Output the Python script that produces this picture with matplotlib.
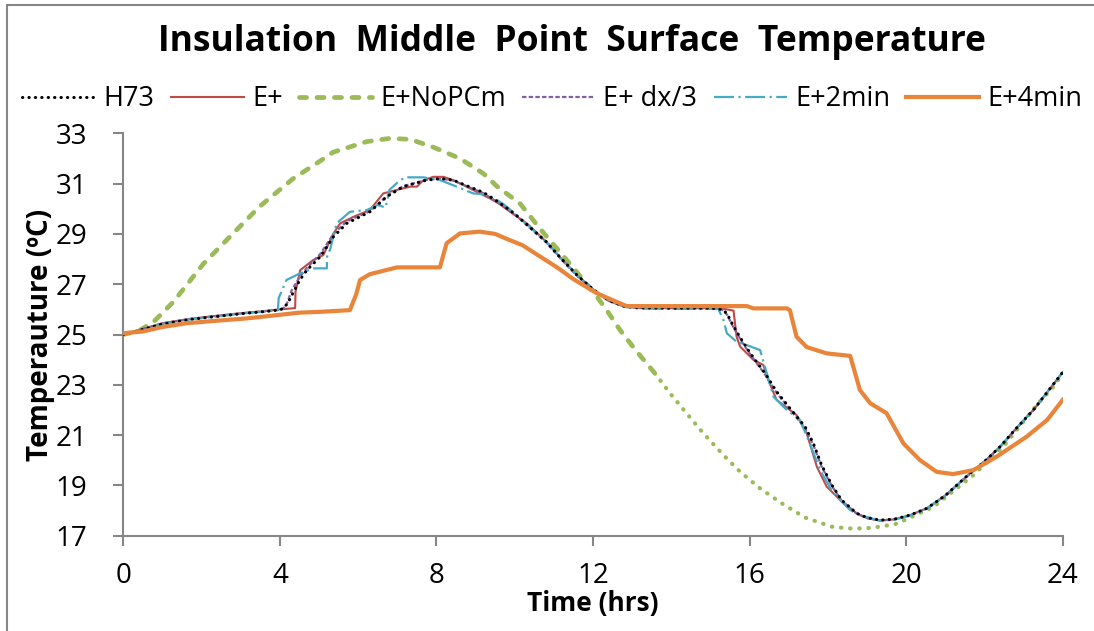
import numpy as np
import matplotlib
matplotlib.use("Agg")
import matplotlib.pyplot as plt
from matplotlib.patches import Rectangle

plt.rcParams['font.family'] = ['Open Sans', 'DejaVu Sans']

#--------------------------------------------
# series data (time in hrs, temperature in C)
t_h73 = [0, 0.5, 1.0, 1.7, 2.4, 3.15, 3.66, 4.0, 4.1, 4.22, 4.51, 4.69, 5.03, 5.37, 5.71,
         6.3, 6.73, 7.15, 7.75, 8.1, 8.43, 8.8, 9.2, 9.6, 10.0, 10.4, 10.8, 11.2, 11.6,
         12.0, 12.4, 12.8, 13.2, 14.0, 15.0, 15.3, 15.42, 15.6, 15.8, 16.0, 16.14, 16.4,
         16.69, 17.03, 17.42, 17.63, 17.84, 18.1, 18.35, 18.74, 19.0, 19.33, 19.7, 20.1,
         20.53, 21.0, 21.63, 22.0, 22.4, 22.8, 23.25, 23.6, 24.0]
T_h73 = [25.0, 25.2, 25.42, 25.6, 25.72, 25.85, 25.92, 25.98, 26.05, 26.3, 27.17, 27.56,
         28.09, 28.89, 29.42, 29.88, 30.48, 30.88, 31.14, 31.2, 31.14, 30.9, 30.65, 30.25,
         29.8, 29.25, 28.7, 28.0, 27.35, 26.8, 26.35, 26.12, 26.06, 26.05, 26.05, 26.0,
         25.84, 25.3, 24.78, 24.3, 23.99, 23.45, 22.73, 22.07, 21.33, 20.67, 19.81, 19.02,
         18.42, 17.89, 17.72, 17.62, 17.66, 17.82, 18.09, 18.6, 19.48, 19.95, 20.54, 21.25,
         22.0, 22.7, 23.5]

t_ep = [0, 0.5, 1.0, 1.7, 2.4, 3.15, 3.66, 4.0, 4.39, 4.4, 4.52, 4.85, 5.11, 5.37, 5.54,
        5.88, 6.3, 6.64, 6.99, 7.33, 7.5, 7.67, 7.92, 8.18, 8.43, 8.77, 9.11, 9.37, 9.6,
        10.0, 10.31, 10.8, 11.2, 11.6, 12.0, 12.4, 12.8, 13.2, 14.0, 15.24, 15.59, 15.67,
        15.76, 16.1, 16.35, 16.48, 16.69, 17.2, 17.46, 17.72, 17.97, 18.4, 18.74, 19.0,
        19.33, 19.7, 20.1, 20.53, 21.0, 21.63, 22.0, 22.4, 22.8, 23.25, 23.6, 24.0]
T_ep = [25.0, 25.22, 25.45, 25.62, 25.75, 25.87, 25.94, 26.0, 26.05, 26.7, 27.56, 27.96,
        28.16, 29.02, 29.42, 29.68, 29.95, 30.61, 30.75, 30.88, 30.88, 31.14, 31.27, 31.27,
        31.14, 30.88, 30.61, 30.41, 30.2, 29.75, 29.42, 28.7, 28.0, 27.35, 26.8, 26.35,
        26.12, 26.06, 26.05, 26.05, 25.95, 24.9, 24.52, 23.99, 23.79, 23.19, 22.4, 21.8,
        21.07, 19.74, 18.95, 18.29, 17.89, 17.7, 17.6, 17.65, 17.82, 18.09, 18.6, 19.48,
        19.95, 20.54, 21.25, 22.0, 22.7, 23.5]

t_nopcm = [0, 0.4, 0.77, 1.28, 2.04, 2.73, 3.49, 4.34, 5.03, 5.36, 6.22, 6.81, 7.33, 7.92,
           8.6, 9.2, 9.54, 10.14, 10.65, 11.33, 11.75, 12.1, 12.35, 12.69, 13.12, 13.58,
           13.97, 14.39, 14.82, 15.33, 15.76, 16.27, 16.82, 17.42, 18.1, 18.52, 18.95,
           19.33, 19.72, 20.06, 20.7, 21.29, 21.72, 22.48, 23.34, 23.76, 24.0]
T_nopcm = [25.0, 25.15, 25.5, 26.3, 27.8, 28.9, 30.1, 31.2, 31.9, 32.25, 32.67, 32.8,
           32.76, 32.45, 32.0, 31.4, 30.9, 30.2, 29.2, 27.96, 27.17, 26.5, 25.97, 25.18,
           24.32, 23.46, 22.66, 21.87, 21.07, 20.21, 19.54, 18.88, 18.29, 17.72, 17.36,
           17.29, 17.29, 17.36, 17.46, 17.69, 18.15, 18.88, 19.41, 20.54, 22.2, 22.92, 23.45]
nopcm_split = 13.58   # dashed part ends, dotted part begins

t_dx3 = [0, 0.5, 1.0, 1.7, 2.4, 3.15, 3.66, 4.0, 4.15, 4.3, 4.51, 4.69, 5.03, 5.37, 5.71,
         6.3, 6.73, 7.15, 7.75, 8.1, 8.43, 8.8, 9.2, 9.6, 10.0, 10.4, 10.8, 11.2, 11.6,
         12.0, 12.4, 12.8, 13.2, 14.0, 15.0, 15.3, 15.42, 15.6, 15.8, 16.0, 16.14, 16.4,
         16.69, 17.03, 17.42, 17.63, 17.84, 18.1, 18.35, 18.74, 19.0, 19.33, 19.7, 20.1,
         20.53, 21.0, 21.63, 22.0, 22.4, 22.8, 23.25, 23.6, 24.0]
T_dx3 = [25.0, 25.22, 25.44, 25.62, 25.74, 25.86, 25.93, 25.99, 26.1, 26.75, 27.3, 27.65,
         28.2, 29.0, 29.5, 29.9, 30.5, 30.9, 31.15, 31.2, 31.12, 30.88, 30.62, 30.22,
         29.78, 29.22, 28.67, 27.97, 27.32, 26.78, 26.34, 26.11, 26.05, 26.04, 26.04, 25.98,
         25.8, 25.25, 24.72, 24.25, 23.95, 23.4, 22.68, 22.02, 21.28, 20.6, 19.75, 18.98,
         18.4, 17.87, 17.7, 17.61, 17.65, 17.81, 18.08, 18.58, 19.46, 19.94, 20.52, 21.23,
         21.98, 22.69, 23.5]

t_2min = [0, 0.5, 1.0, 1.7, 2.4, 3.15, 3.66, 3.95, 3.97, 4.17, 4.51, 4.85, 5.2, 5.21, 5.28,
          5.45, 5.79, 6.22, 6.5, 6.7, 6.8, 7.07, 7.24, 7.67, 8.09, 8.52, 8.94, 9.28, 9.62,
          9.8, 10.0, 10.4, 10.8, 11.2, 11.6, 12.0, 12.4, 12.8, 13.2, 14.0, 15.2, 15.33,
          15.42, 15.67, 15.93, 16.27, 16.44, 16.61, 16.95, 17.29, 17.54, 17.8, 18.14, 18.57,
          18.82, 19.33, 19.7, 20.1, 20.53, 21.0, 21.63, 22.0, 22.4, 22.8, 23.25, 23.6, 24.0]
T_2min = [25.0, 25.2, 25.42, 25.6, 25.72, 25.85, 25.92, 25.97, 26.45, 27.17, 27.43, 27.63,
          27.63, 28.2, 28.36, 29.42, 29.88, 29.95, 30.15, 30.05, 30.75, 31.14, 31.25, 31.25,
          31.14, 30.88, 30.61, 30.57, 30.28, 30.08, 29.8, 29.25, 28.7, 28.0, 27.35, 26.8,
          26.35, 26.1, 26.03, 26.02, 26.02, 25.58, 25.05, 24.71, 24.58, 24.38, 23.46, 22.53,
          22.0, 21.6, 20.67, 19.61, 18.69, 18.02, 17.82, 17.6, 17.64, 17.8, 18.09, 18.6,
          19.48, 19.95, 20.54, 21.25, 22.0, 22.7, 23.5]

t_4min = [0, 0.5, 1.0, 1.62, 2.4, 3.15, 3.8, 4.5, 5.0, 5.79, 5.95, 6.05, 6.3, 6.56, 6.99,
          7.5, 8.09, 8.2, 8.26, 8.6, 9.11, 9.5, 9.8, 10.2, 10.65, 11.1, 11.5, 12.1, 12.69,
          12.86, 14.0, 15.93, 16.1, 16.95, 17.03, 17.2, 17.46, 17.97, 18.57, 18.82, 19.08,
          19.5, 19.93, 20.35, 20.78, 21.2, 21.72, 22.31, 23.08, 23.6, 24.0]
T_4min = [25.05, 25.12, 25.3, 25.45, 25.55, 25.64, 25.75, 25.87, 25.9, 25.97, 26.6, 27.17,
          27.4, 27.5, 27.67, 27.67, 27.67, 28.3, 28.63, 29.02, 29.09, 29.0, 28.8, 28.55,
          28.1, 27.65, 27.2, 26.64, 26.24, 26.13, 26.13, 26.13, 26.04, 26.04, 25.97, 24.91,
          24.5, 24.25, 24.15, 22.79, 22.27, 21.87, 20.67, 20.01, 19.54, 19.45, 19.61, 20.14,
          20.94, 21.6, 22.4]

x_ticks = [0, 4, 8, 12, 16, 20, 24]
y_ticks = [17, 19, 21, 23, 25, 27, 29, 31, 33]

#--------------------------------------------
# Plot
fig = plt.figure(figsize=(10.94, 6.31), dpi=100)
ax = fig.add_axes([0.1127, 0.151, 0.8587, 0.6377])

c_red = '#BE4B48'
c_green = '#9BBB59'
c_purple = '#7F62A0'
c_teal = '#46AAC5'
c_orange = '#E9853A'
c_grey = '#868686'

# green line: heavy dashes first, small dots after
t_g = np.array(t_nopcm)
T_g = np.array(T_nopcm)
first = t_g <= nopcm_split
ax.plot(t_g[first], T_g[first], color=c_green, lw=3.4, ls=(0, (1.5, 2.2)),
        dash_capstyle='round', label='E+NoPCm', zorder=2)
second = t_g >= nopcm_split
ax.plot(t_g[second], T_g[second], color=c_green, lw=3.0, ls=(0, (0.1, 2.1)),
        dash_capstyle='round', zorder=2)

ax.plot(t_ep, T_ep, color=c_red, lw=1.5, label='E+', zorder=3)
ax.plot(t_dx3, T_dx3, color=c_purple, lw=1.6, ls=(0, (2, 1)), label='E+ dx/3', zorder=3)
ax.plot(t_2min, T_2min, color=c_teal, lw=1.6, ls=(0, (9, 2, 1, 2)), label='E+2min', zorder=3)
ax.plot(t_h73, T_h73, color='black', lw=2.2, ls=(0, (0.1, 2.0)), dash_capstyle='round',
        label='H73', zorder=4)
ax.plot(t_4min, T_4min, color=c_orange, lw=3.0, label='E+4min', zorder=5)

ax.set_xlim(0, 24)
ax.set_ylim(17, 33)
ax.set_xticks(x_ticks)
ax.set_yticks(y_ticks)
for s in ['top', 'right']:
    ax.spines[s].set_visible(False)
for s in ['left', 'bottom']:
    ax.spines[s].set_color(c_grey)
    ax.spines[s].set_linewidth(1.5)
ax.tick_params(axis='both', which='major', direction='out', length=7, width=1.5,
               color=c_grey, labelsize=20, labelcolor='black')
ax.tick_params(axis='x', pad=12)
ax.tick_params(axis='y', pad=19)

ax.set_xlabel('Time (hrs)', fontsize=19, fontweight='bold', labelpad=0)
ax.set_ylabel('Temperauture (ºC)', fontsize=20, fontweight='bold', labelpad=0)
fig.text(0.523, 0.934, 'Insulation  Middle  Point  Surface  Temperature', ha='center',
         va='center', fontsize=25.5, fontweight='bold')

# legend in one row
handles, labels = ax.get_legend_handles_labels()
order = ['H73', 'E+', 'E+NoPCm', 'E+ dx/3', 'E+2min', 'E+4min']
hmap = dict(zip(labels, handles))
leg = fig.legend([hmap[k] for k in order], order, loc='center', ncol=6,
                 bbox_to_anchor=(0.505, 0.843), frameon=False, fontsize=19.5,
                 handlelength=2.7, handletextpad=0.3, columnspacing=0.6,
                 borderaxespad=0)

# chart frame
fig.add_artist(Rectangle((7 / 1094, -0.1), 1.2, 1.1 - 5 / 631, transform=fig.transFigure,
                         fill=False, edgecolor=c_grey, lw=1.5, clip_on=False))

fig.savefig('out.png', dpi=100)
